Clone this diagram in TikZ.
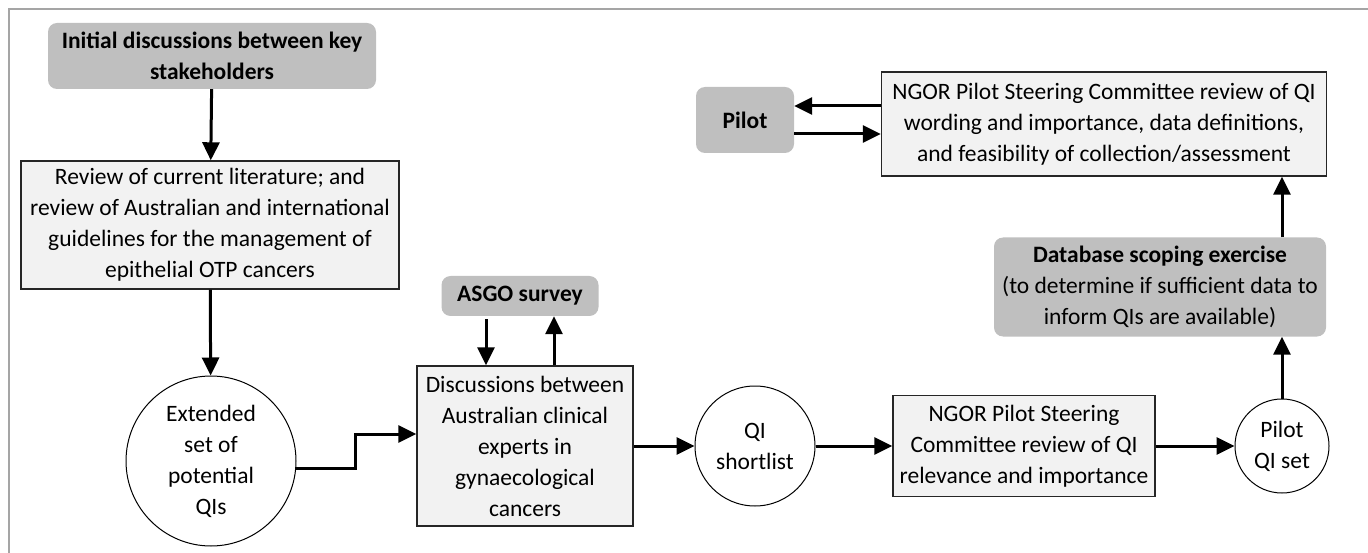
\documentclass[tikz,border=0pt]{standalone}
\usepackage{fontspec}
\setmainfont{Carlito}
\usetikzlibrary{arrows.meta}
\definecolor{boxfill}{RGB}{242,242,242}
\definecolor{inputfill}{RGB}{191,191,191}
\definecolor{framegray}{RGB}{165,165,165}

\begin{document}
\begin{tikzpicture}[x=1pt,y=-1pt,font={\fontsize{23.5}{31}\selectfont},
    stage/.style={draw=black!85,line width=1.4pt,fill=boxfill,align=center,inner sep=0pt},
    input/.style={fill=inputfill,rounded corners=9pt,align=center,inner sep=0pt},
    qiset/.style={draw=black,line width=1pt,fill=white,circle,align=center,inner sep=0pt},
    arr/.style={-{Triangle[length=18pt,width=17pt]},line width=3pt}]
    \useasboundingbox (0,0) rectangle (1368,553);
    \draw[framegray,line width=1.4pt] (9,553) -- (9,9) -- (1368,9);

    \node[input,minimum width=328pt,minimum height=66pt,font={\fontsize{23.5}{31}\selectfont\bfseries}] (init) at (212,56){Initial discussions between key\\stakeholders};
    \node[stage,minimum width=378pt,minimum height=128pt] (review) at (210,225){Review of current literature; and\\review of Australian and international\\guidelines for the management of\\epithelial OTP cancers};
    \node[qiset,minimum size=170pt] (extset) at (211,461){Extended\\set of\\potential\\QIs};
    \node[input,minimum width=157pt,minimum height=40pt,font={\fontsize{23.5}{31}\selectfont\bfseries}] (asgo) at (520,296){ASGO survey};
    \node[stage,minimum width=216pt,minimum height=160pt] (discuss) at (525,446){Discussions between\\Australian clinical\\experts in\\gynaecological\\cancers};
    \node[qiset,minimum size=120pt] (shortlist) at (755,446){QI\\shortlist};
    \node[stage,minimum width=262pt,minimum height=101pt] (relevance) at (1024,446){NGOR Pilot Steering\\Committee review of QI\\relevance and importance};
    \node[qiset,minimum size=94pt] (pilotset) at (1282,446){Pilot\\QI set};
    \node[input,minimum width=332pt,minimum height=99pt] (scoping) at (1160,287){\textbf{Database scoping exercise}\\(to determine if sufficient data to\\inform QIs are available)};
    \node[stage,minimum width=445pt,minimum height=104pt] (wording) at (1104,124){NGOR Pilot Steering Committee review of QI\\wording and importance, data definitions,\\and feasibility of collection/assessment};
    \node[input,minimum width=98pt,minimum height=66pt,font={\fontsize{23.5}{31}\selectfont\bfseries}] (pilot) at (745,120){Pilot};

    \coordinate (wout) at ([yshift=18pt]wording.west);
    \coordinate (win) at ([yshift=-10pt]wording.west);
    \coordinate (adown) at ([xshift=-34pt,yshift=-3pt]asgo.south);
    \coordinate (aup) at ([xshift=34pt]asgo.south);

    \draw[arr] (init) -- (review);
    \draw[arr] (review) -- (extset);
    \draw[arr] (extset.-5) -- ++(59,0) |- ([yshift=12pt]discuss.west);
    \draw[arr] (adown) -- (adown |- discuss.north);
    \draw[arr] (aup |- discuss.north) -- (aup);
    \draw[arr] (discuss) -- (shortlist);
    \draw[arr] (shortlist) -- (relevance);
    \draw[arr] (relevance) -- (pilotset);
    \draw[arr] (pilotset) -- (scoping.south -| pilotset.north);
    \draw[arr] (scoping.north -| pilotset.north) -- (wording.south -| pilotset.north);
    \draw[arr] (wout) -- (wout -| pilot.east);
    \draw[arr] (win -| pilot.east) -- (win);
\end{tikzpicture}
\end{document}
